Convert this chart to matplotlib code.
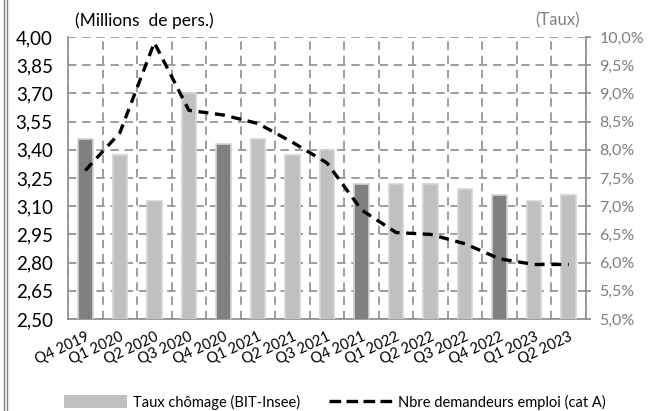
import matplotlib.pyplot as plt
import numpy as np
from matplotlib.lines import Line2D
from matplotlib.patches import Patch


### DATA ###
quarters = ["Q4 2019", "Q1 2020", "Q2 2020", "Q3 2020", "Q4 2020", "Q1 2021",
            "Q2 2021", "Q3 2021", "Q4 2021", "Q1 2022", "Q2 2022", "Q3 2022",
            "Q4 2022", "Q1 2023", "Q2 2023"]
taux_chomage = [8.2, 7.9, 7.1, 9.0, 8.1, 8.2, 7.9, 8.0, 7.4, 7.4, 7.4, 7.3, 7.2, 7.1, 7.2]
demandeurs = [3.29, 3.49, 3.97, 3.61, 3.585, 3.54, 3.44, 3.33, 3.08, 2.96, 2.95, 2.90,
              2.82, 2.79, 2.79]
left_ticks = [2.50, 2.65, 2.80, 2.95, 3.10, 3.25, 3.40, 3.55, 3.70, 3.85, 4.00]
right_ticks = [5.0, 5.5, 6.0, 6.5, 7.0, 7.5, 8.0, 8.5, 9.0, 9.5, 10.0]


plt.rcParams['font.family'] = ['Lato', 'DejaVu Sans']

fig = plt.figure(figsize=(6.49, 4.11), dpi=100)
ax = fig.add_axes([68 / 649, 1 - 319 / 411, 518 / 649, 282 / 411])
ax2 = ax.twinx()

grid_col = '#8c8c8c'
x = np.arange(len(quarters))


### BARS (right axis) ###
colors = ['#808080' if q.startswith('Q4') else '#c0c0c0' for q in quarters]
ax.bar(x, taux_chomage, width=0.42, color=colors, edgecolor='#d4d4d4',
       linewidth=1.2, zorder=3)
ax.set_ylim(5, 10)
ax.set_xlim(-0.5, len(quarters) - 0.5)
ax.yaxis.tick_right()
ax.yaxis.set_label_position('right')
ax.set_yticks(right_ticks)
ax.set_yticklabels([f"{v:.1f}%".replace('.', ',') for v in right_ticks])
ax.tick_params(axis='y', colors=grid_col, labelcolor='#7f7f7f', labelsize=11.5,
               length=3.5, width=1.2, pad=6)

ax.set_xticks(x)
ax.set_xticklabels(quarters, rotation=25, ha='right', rotation_mode='anchor')
ax.tick_params(axis='x', length=0, labelsize=10.5, pad=8)
ax.set_xticks(np.arange(len(quarters) + 1) - 0.5, minor=True)
ax.tick_params(axis='x', which='minor', length=0)

ax.grid(True, axis='y', color=grid_col, linestyle=(0, (5, 3.5)), linewidth=1.2, zorder=0)
ax.grid(True, axis='x', which='minor', color=grid_col, linestyle=(0, (5, 3.5)),
        linewidth=1.2, zorder=0)

for side in ['left', 'right', 'bottom']:
    ax.spines[side].set_color(grid_col)
    ax.spines[side].set_linewidth(1.2)
ax.spines['top'].set_visible(False)


### LINE (left axis) ###
ax2.plot(x, demandeurs, color='black', linewidth=2.4, linestyle=(0, (3, 2)), zorder=4)
ax2.set_ylim(2.5, 4.0)
ax2.yaxis.tick_left()
ax2.yaxis.set_label_position('left')
ax2.set_yticks(left_ticks)
ax2.set_yticklabels([f"{v:.2f}".replace('.', ',') for v in left_ticks])
ax2.tick_params(axis='y', length=0, labelsize=13.5, pad=11, labelcolor='black')
for side in ['left', 'right', 'top', 'bottom']:
    ax2.spines[side].set_visible(False)


### TITLES ###
fig.text(75 / 649, 1 - 21 / 411, "(Millions  de pers.)", fontsize=12.5, va='center', ha='left')
fig.text(580 / 649, 1 - 20 / 411, "(Taux)", fontsize=12, va='center', ha='right',
         color='#7f7f7f')


### LEGEND ###
handles = [Patch(facecolor='#c0c0c0', edgecolor='none'),
           Line2D([0], [0], color='black', linewidth=2.4, linestyle=(0, (3.5, 1.6)))]
fig.legend(handles, ["Taux chômage (BIT-Insee)", "Nbre demandeurs emploi (cat A)"],
           loc='center', bbox_to_anchor=(335 / 649, 1 - 402 / 411), ncol=2,
           frameon=False, fontsize=10.5, handlelength=4.3, handleheight=0.9,
           columnspacing=2.0, handletextpad=0.4)


### LEFT BORDER ###
fig.add_artist(Line2D([4 / 649, 4 / 649], [0, 1], color='#808080', linewidth=1))
fig.add_artist(Line2D([7 / 649, 7 / 649], [0, 1], color='#808080', linewidth=1))

fig.savefig("out.png", dpi=100)
